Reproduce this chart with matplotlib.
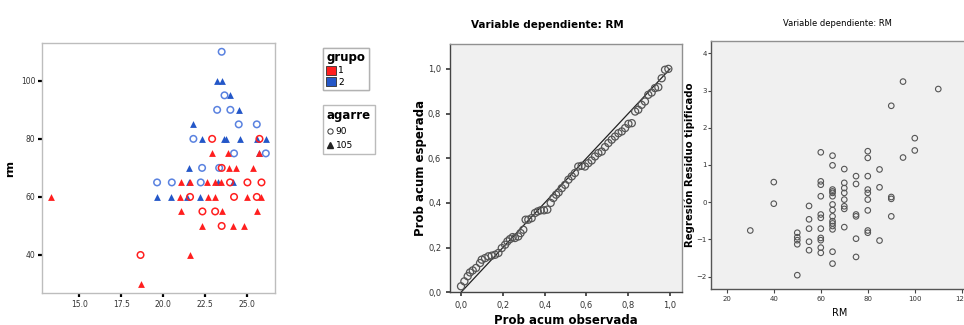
import matplotlib
matplotlib.use("Agg")
import matplotlib.pyplot as plt
from matplotlib.lines import Line2D
from matplotlib.patches import Patch

# ---------------- data: left scatter (rm vs x, by grupo / agarre) ----------------
g1_105_x = [13.3, 18.65, 21.61, 22.93, 23.9, 25.76, 23.94, 24.34, 25.4, 21.04, 21.63, 22.61,
            23.11, 23.47, 21.02, 22.69, 23.13, 25.02, 25.86, 21.04, 23.5, 25.6, 22.31, 24.2, 24.82]
g1_105_y = [60, 30, 40, 75, 75, 75, 70, 70, 70, 65, 65, 65,
            65, 65, 60, 60, 60, 60, 60, 55, 55, 55, 50, 50, 50]
g1_90_x = [18.65, 22.93, 25.76, 23.5, 24.0, 25.04, 25.88, 21.61, 24.24, 25.6, 22.35, 23.11, 23.5]
g1_90_y = [40, 80, 80, 70, 65, 65, 65, 60, 60, 60, 55, 55, 50]
g2_105_x = [23.25, 23.5, 24.02, 24.52, 21.81, 22.31, 23.65, 23.75, 24.62, 25.6, 26.14, 25.76,
            21.53, 21.53, 23.3, 24.2, 19.62, 20.48, 21.41, 22.23]
g2_105_y = [100, 100, 95, 90, 85, 80, 80, 80, 80, 80, 80, 75,
            70, 65, 65, 65, 60, 60, 60, 60]
g2_90_x = [23.5, 23.67, 23.23, 24.02, 24.52, 25.6, 21.81, 24.24, 26.14, 22.33, 23.35, 19.64, 20.52, 22.25]
g2_90_y = [110, 95, 90, 90, 85, 85, 80, 75, 75, 70, 70, 65, 65, 65]
left_xticks = [15.0, 17.5, 20.0, 22.5, 25.0]
left_xticklabels = ["15.0", "17.5", "20.0", "22.5", "25.0"]
left_yticks = [40, 60, 80, 100]

# ---------------- data: P-P plot ----------------
pp_obs = [0.0, 0.016, 0.032, 0.043, 0.056, 0.072, 0.091, 0.099, 0.115, 0.131, 0.147, 0.163,
          0.179, 0.195, 0.211, 0.222, 0.234, 0.247, 0.258, 0.274, 0.285, 0.298, 0.309, 0.322,
          0.338, 0.354, 0.367, 0.381, 0.397, 0.413, 0.429, 0.442, 0.455, 0.467, 0.482, 0.498,
          0.514, 0.53, 0.545, 0.561, 0.577, 0.593, 0.609, 0.625, 0.641, 0.657, 0.673, 0.689,
          0.705, 0.721, 0.737, 0.753, 0.769, 0.785, 0.801, 0.817, 0.833, 0.848, 0.864, 0.88,
          0.896, 0.912, 0.928, 0.944, 0.96, 0.976, 0.992]
pp_exp = [0.027, 0.049, 0.072, 0.089, 0.098, 0.109, 0.131, 0.146, 0.153, 0.161, 0.164, 0.168,
          0.176, 0.198, 0.213, 0.228, 0.238, 0.247, 0.243, 0.25, 0.265, 0.28, 0.325, 0.325,
          0.332, 0.355, 0.362, 0.367, 0.367, 0.37, 0.4, 0.422, 0.437, 0.447, 0.466, 0.481,
          0.504, 0.519, 0.534, 0.563, 0.566, 0.563, 0.578, 0.59, 0.608, 0.623, 0.63, 0.65,
          0.668, 0.683, 0.697, 0.712, 0.72, 0.735, 0.754, 0.757, 0.809, 0.817, 0.839, 0.854,
          0.884, 0.894, 0.914, 0.918, 0.958, 0.996, 1.0]
pp_ticks = [0.0, 0.2, 0.4, 0.6, 0.8, 1.0]
pp_ticklabels = ["0,0", "0,2", "0,4", "0,6", "0,8", "1,0"]

# ---------------- data: residuals vs RM ----------------
rm_vals = [30, 40, 40,
           50, 50, 50, 50, 50,
           55, 55, 55, 55, 55,
           60, 60, 60, 60, 60, 60, 60, 60, 60, 60, 60,
           65, 65, 65, 65, 65, 65, 65, 65, 65, 65, 65, 65, 65, 65, 65,
           70, 70, 70, 70, 70, 70, 70, 70,
           75, 75, 75, 75, 75, 75,
           80, 80, 80, 80, 80, 80, 80, 80, 80,
           85, 85, 85,
           90, 90, 90, 90,
           95, 95, 100, 100, 110]
resid = [-0.76, 0.54, -0.04,
         -0.82, -0.94, -1.02, -1.13, -1.96,
         -0.1, -0.46, -0.71, -1.06, -1.29,
         1.34, 0.56, 0.47, 0.16, -0.33, -0.42, -0.71, -0.96, -1.02, -1.22, -1.36,
         1.25, 0.99, 0.34, 0.29, 0.25, 0.16, -0.06, -0.21, -0.38, -0.51, -0.57, -0.64, -0.73, -1.33, -1.65,
         0.89, 0.52, 0.38, 0.25, 0.07, -0.11, -0.18, -0.67,
         0.7, 0.49, -0.33, -0.38, -0.98, -1.47,
         1.37, 1.19, 0.7, 0.34, 0.25, 0.07, -0.22, -0.76, -0.82,
         0.88, 0.4, -1.03,
         2.59, 0.14, 0.09, -0.38,
         3.24, 1.2, 1.72, 1.39, 3.04]
res_xticks = [20, 40, 60, 80, 100, 120]
res_yticks = [-2, -1, 0, 1, 2, 3, 4]

RED = "#ff1f1f"
BLUE = "#2457c8"
BLUE_L = "#5a82e0"
GRAYBG = "#f0f0f0"

fig = plt.figure(figsize=(9.64, 3.25), dpi=100)

# ================= left panel =================
ax1 = fig.add_axes([0.0439, 0.0975, 0.2414, 0.770])
ax1.scatter(g2_105_x, g2_105_y, marker="^", s=24, color=BLUE, linewidths=0, zorder=3)
ax1.scatter(g2_90_x, g2_90_y, marker="o", s=22, facecolors="none", edgecolors=BLUE_L, linewidths=1.1, zorder=3)
ax1.scatter(g1_105_x, g1_105_y, marker="^", s=24, color=RED, linewidths=0, zorder=4)
ax1.scatter(g1_90_x, g1_90_y, marker="o", s=22, facecolors="none", edgecolors=RED, linewidths=1.1, zorder=4)
ax1.set_xlim(12.78, 26.69)
ax1.set_ylim(26.8, 113)
ax1.set_xticks(left_xticks)
ax1.set_xticklabels(left_xticklabels)
ax1.set_yticks(left_yticks)
ax1.tick_params(axis="both", length=3, width=1.6, color="black", labelsize=5.5, labelcolor="#333333", pad=2)
for sp in ax1.spines.values():
    sp.set_color("#bdbdbd")
    sp.set_linewidth(1.0)
ax1.set_ylabel("rm", fontsize=8, fontweight="bold", labelpad=4)

# legends
h_grp = [Patch(facecolor=RED, edgecolor="#333333", linewidth=0.6),
         Patch(facecolor=BLUE, edgecolor="#333333", linewidth=0.6)]
leg1 = fig.legend(h_grp, ["1", "2"], title="grupo", loc="upper left",
                  bbox_to_anchor=(318 / 964, 1 - 43 / 325), fontsize=6.5,
                  title_fontproperties={"weight": "bold", "size": 8.5},
                  frameon=True, fancybox=False, edgecolor="#aaaaaa",
                  handlelength=1.1, handleheight=1.1, handletextpad=0.2,
                  borderpad=0.4, labelspacing=0.2, alignment="left")
fig.add_artist(leg1)
h_ag = [Line2D([], [], marker="o", linestyle="none", markerfacecolor="none",
               markeredgecolor="#333333", markersize=3.8, markeredgewidth=0.7),
        Line2D([], [], marker="^", linestyle="none", color="#222222", markersize=3.8)]
leg2 = fig.legend(h_ag, ["90", "105"], title="agarre", loc="upper left",
                  bbox_to_anchor=(318 / 964, 1 - 100 / 325), fontsize=6.5,
                  title_fontproperties={"weight": "bold", "size": 8.5},
                  frameon=True, fancybox=False, edgecolor="#aaaaaa",
                  handlelength=0.7, handletextpad=0.3,
                  borderpad=0.45, labelspacing=0.6, alignment="left")

# ================= middle panel =================
ax2 = fig.add_axes([0.4663, 0.1006, 0.2409, 0.7631])
ax2.set_facecolor(GRAYBG)
ax2.plot([0, 1], [0, 1], color="#222222", linewidth=0.9, zorder=2)
ax2.scatter(pp_obs, pp_exp, marker="o", s=26, facecolors="none", edgecolors="#555555",
            linewidths=0.9, zorder=3)
ax2.set_xlim(-0.055, 1.056)
ax2.set_ylim(0.0, 1.11)
ax2.set_xticks(pp_ticks)
ax2.set_xticklabels(pp_ticklabels)
ax2.set_yticks(pp_ticks)
ax2.set_yticklabels(pp_ticklabels)
ax2.tick_params(axis="both", length=3, width=1.2, color="#333333", labelsize=6, labelcolor="#333333", pad=3)
for k, sp in ax2.spines.items():
    sp.set_color("#909090" if k in ("top", "right") else "#444444")
    sp.set_linewidth(1.0)
ax2.set_xlabel("Prob acum observada", fontsize=8.5, fontweight="bold", labelpad=3)
ax2.set_ylabel("Prob acum esperada", fontsize=8.5, fontweight="bold", labelpad=1)
fig.text(547 / 964, 1 - 25 / 325, "Variable dependiente: RM", ha="center", va="center",
         fontsize=7.5, fontweight="bold")

# ================= right panel =================
ax3 = fig.add_axes([0.7376, 0.1098, 0.2674, 0.764])
ax3.set_facecolor(GRAYBG)
ax3.scatter(rm_vals, resid, marker="o", s=16, facecolors="none", edgecolors="#555555",
            linewidths=0.8, zorder=3)
ax3.set_xlim(13.3, 123)
ax3.set_ylim(-2.34, 4.33)
ax3.set_xticks(res_xticks)
ax3.set_yticks(res_yticks)
narrow = ["Liberation Sans Narrow", "DejaVu Sans"]
ax3.tick_params(axis="x", length=3, width=0.8, color="#444444", labelsize=5, labelcolor="#333333", pad=2)
ax3.tick_params(axis="y", length=2, width=0.8, color="#444444", labelsize=5, labelcolor="#333333", pad=1)
for lab in ax3.get_xticklabels() + ax3.get_yticklabels():
    lab.set_family(narrow)
for k, sp in ax3.spines.items():
    sp.set_color("#909090" if k in ("top", "right") else "#555555")
    sp.set_linewidth(1.0)
ax3.set_xlabel("RM", fontsize=7, family=narrow, labelpad=4)
ax3.set_ylabel("Regresión Residuo tipificado", fontsize=7.3, fontweight="bold", labelpad=1)
fig.text(837 / 964, 1 - 23 / 325, "Variable dependiente: RM", ha="center", va="center",
         fontsize=6, family=narrow)

fig.savefig("out.png", dpi=100)
